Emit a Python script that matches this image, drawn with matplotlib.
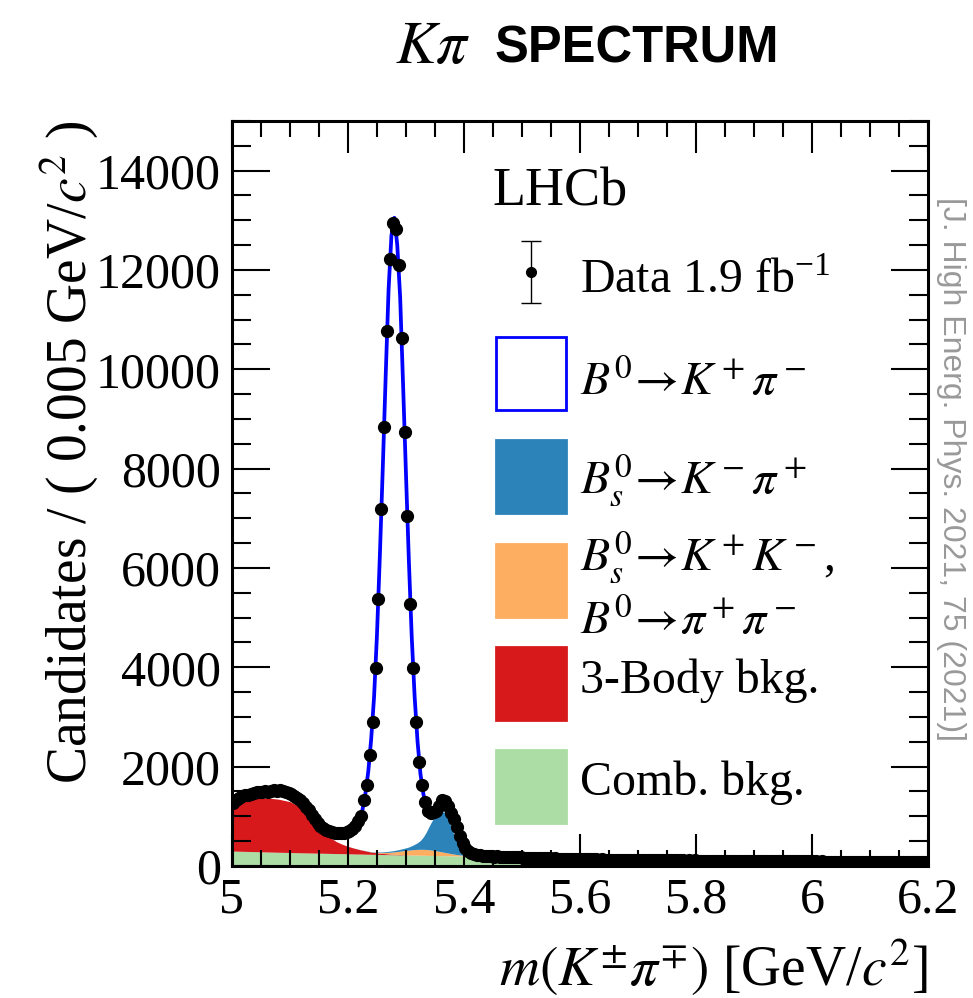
import numpy as np
import matplotlib
matplotlib.use('Agg')
import matplotlib.pyplot as plt
from matplotlib.patches import Rectangle
from matplotlib.ticker import MultipleLocator, FixedLocator

plt.rcParams['font.family'] = ['Liberation Serif', 'DejaVu Serif']
plt.rcParams['mathtext.fontset'] = 'stix'

# data histogram: 240 bins of 5 MeV from 5.0 to 6.2 GeV
bin_lo = 5.0
bin_w = 0.005
counts = [
    1268, 1330, 1370, 1400, 1420, 1430, 1450, 1470, 1490, 1495,
    1490, 1500, 1495, 1510, 1520, 1515, 1525, 1500, 1480, 1465,
    1440, 1410, 1370, 1328, 1260, 1190, 1127, 1020, 940, 870,
    800, 760, 725, 700, 680, 665, 660, 658, 665, 680,
    700, 750, 800, 900, 1000, 1328, 1630, 2234, 2900, 3986,
    5375, 7187, 8843, 10776, 12213, 12937, 12817, 12098, 10622, 8743,
    7052, 5274, 3986, 2900, 2100, 1630, 1294, 1110, 1070, 1080,
    1110, 1200, 1320, 1300, 1200, 1060, 940, 790, 600, 460,
    370, 300, 260, 235, 220, 212, 205, 200, 194, 196,
    189, 191, 185, 187, 181, 183, 177, 178, 172, 174,
    168, 170, 164, 166, 161, 162, 157, 159, 154, 155,
    150, 152, 147, 149, 144, 146, 142, 143, 139, 141,
    137, 138, 134, 136, 132, 134, 130, 132, 128, 130,
    127, 129, 125, 127, 124, 126, 122, 124, 121, 123,
    119, 121, 118, 120, 117, 119, 115, 118, 114, 117,
    113, 115, 112, 114, 111, 113, 110, 112, 109, 111,
    108, 110, 107, 109, 106, 108, 105, 107, 104, 106,
    103, 105, 102, 104, 101, 103, 100, 102, 99, 101,
    98, 100, 97, 99, 96, 98, 95, 97, 95, 96,
    94, 95, 93, 94, 92, 93, 91, 93, 91, 92,
    90, 91, 89, 90, 88, 89, 88, 89, 87, 88,
    86, 87, 85, 86, 85, 86, 84, 85, 83, 84,
    83, 84, 82, 83, 81, 82, 81, 82, 80, 81,
    80, 81, 79, 80, 79, 80, 78, 79, 78, 79,
]

# fit components sampled along the mass axis
fit_m = [5.00, 5.02, 5.04, 5.06, 5.08, 5.10, 5.12, 5.14, 5.16, 5.18, 5.19,
         5.200, 5.205, 5.210, 5.215, 5.220, 5.225, 5.230, 5.235, 5.240, 5.245,
         5.250, 5.255, 5.260, 5.265, 5.270, 5.275, 5.280, 5.285, 5.290, 5.295,
         5.300, 5.305, 5.310, 5.315, 5.320, 5.325, 5.330, 5.335, 5.340, 5.345,
         5.350, 5.355, 5.360, 5.365, 5.370, 5.375, 5.380, 5.385, 5.390, 5.395,
         5.400, 5.405, 5.410, 5.415, 5.420,
         5.44, 5.46, 5.50, 5.60, 5.70, 5.80, 5.90, 6.00, 6.10, 6.20]

comb = [300, 294, 288, 282, 276, 271, 265, 260, 255, 250, 248,
        245, 244, 242, 241, 240, 239, 237, 236, 235, 234,
        233, 232, 230, 229, 228, 227, 226, 225, 223, 222,
        221, 220, 219, 218, 217, 216, 215, 214, 212, 211,
        210, 209, 208, 207, 206, 205, 204, 203, 202, 201,
        200, 199, 198, 196, 194,
        186, 178, 163, 138, 121, 108, 98, 89, 83, 77]

threebody = [890, 996, 1072, 1088, 1069, 1024, 905, 640, 385, 240, 190,
             150, 133, 118, 104, 90, 78, 68, 56, 45, 38,
             32, 26, 22, 19, 16, 13, 11, 9, 8, 6,
             4, 3, 2, 1, 0, 0, 0, 0, 0, 0,
             0, 0, 0, 0, 0, 0, 0, 0, 0, 0,
             0, 0, 0, 0, 0,
             0, 0, 0, 0, 0, 0, 0, 0, 0, 0]

misid = [0, 0, 0, 0, 0, 0, 0, 0, 0, 0, 0,
         0, 0, 0, 0, 0, 0, 0, 1, 3, 5,
         8, 12, 17, 23, 30, 38, 47, 57, 67, 78,
         88, 97, 105, 112, 117, 119, 120, 118, 115, 108,
         100, 90, 80, 70, 60, 50, 40, 32, 25, 19,
         14, 10, 7, 5, 3,
         1, 0, 0, 0, 0, 0, 0, 0, 0, 0]

bs_kpi = [0, 0, 0, 0, 0, 0, 0, 0, 0, 0, 0,
          1, 1, 1, 2, 2, 2, 3, 4, 5, 6,
          8, 11, 14, 17, 21, 24, 28, 32, 38, 44,
          52, 62, 82, 105, 135, 180, 250, 350, 473, 590,
          690, 760, 800, 815, 770, 620, 470, 320, 200, 110,
          50, 22, 9, 4, 1,
          0, 0, 0, 0, 0, 0, 0, 0, 0, 0]

fit_total = [1270, 1400, 1470, 1495, 1510, 1460, 1300, 990, 745, 665, 665,
             690, 710, 770, 840, 950, 1130, 1450, 1900, 2550, 3400,
             4650, 6250, 8000, 9850, 11600, 12700, 13050, 12500, 11450, 9700,
             7900, 6150, 4600, 3400, 2500, 1850, 1450, 1200, 1080, 1070,
             1100, 1170, 1280, 1320, 1260, 1130, 1000, 860, 690, 530,
             410, 330, 280, 245, 225,
             200, 190, 170, 141, 123, 110, 100, 92, 86, 80]

xticks = [5.0, 5.2, 5.4, 5.6, 5.8, 6.0, 6.2]
xtick_labels = ['5', '5.2', '5.4', '5.6', '5.8', '6', '6.2']

c_comb, c_3body, c_misid, c_bs = '#abdda4', '#d7191c', '#fdae61', '#2b83ba'

counts = np.array(counts, dtype=float)
mass = bin_lo + bin_w * (np.arange(len(counts)) + 0.5)
err = np.sqrt(counts)

s0 = np.array(comb, dtype=float)
s1 = s0 + np.array(threebody)
s2 = s1 + np.array(misid)
s3 = s2 + np.array(bs_kpi)

fig = plt.figure(figsize=(9.73, 9.98), dpi=100)
ax = fig.add_axes([0.2384, 0.1323, 0.7153, 0.7465])

ax.fill_between(fit_m, 0, s0, color=c_comb, lw=0)
ax.fill_between(fit_m, s0, s1, color=c_3body, lw=0)
ax.fill_between(fit_m, s1, s2, color=c_misid, lw=0)
ax.fill_between(fit_m, s2, s3, color=c_bs, lw=0)
ax.plot(fit_m, fit_total, color='#0000ff', lw=2.7, zorder=3)
ax.errorbar(mass, counts, yerr=err, fmt='o', color='k', ms=8.5,
            elinewidth=1, capsize=1.5, zorder=4)

ax.set_xlim(5.0, 6.2)
ax.set_ylim(0, 15000)
ax.xaxis.set_major_locator(FixedLocator(xticks))
ax.set_xticklabels(xtick_labels)
ax.xaxis.set_minor_locator(MultipleLocator(0.05))
ax.yaxis.set_major_locator(MultipleLocator(2000))
ax.yaxis.set_minor_locator(MultipleLocator(500))
ax.tick_params(which='both', direction='in', top=True, right=True, width=1.5, labelsize=36)
ax.tick_params(axis='x', which='major', length=23, pad=8)
ax.tick_params(axis='x', which='minor', length=11.5)
ax.tick_params(axis='y', which='major', length=27, pad=8)
ax.tick_params(axis='y', which='minor', length=14)
for sp in ax.spines.values():
    sp.set_linewidth(2.2)
    sp.set_zorder(5)

ax.set_ylabel('Candidates / ( 0.005 GeV/$c^2$ )', fontsize=40, loc='top')
ax.yaxis.set_label_coords(-0.19, 1.0)
ax.set_xlabel(r'$m(K^{\pm}\pi^{\mp})$ [GeV/$c^2$]', fontsize=40, loc='right')
ax.xaxis.set_label_coords(1.0, -0.095)

# legend, drawn by hand
ax.text(0.375, 0.887, 'LHCb', transform=ax.transAxes, fontsize=39, va='baseline')
ax.errorbar([0.43], [0.797], yerr=[[0.042], [0.042]], transform=ax.transAxes,
            fmt='o', color='k', ms=7, elinewidth=1, capsize=7, capthick=1, clip_on=False)
ax.text(0.5, 0.7695, 'Data 1.9 fb$^{\\mathregular{-1}}$', transform=ax.transAxes,
        fontsize=34.5, va='baseline')

boxes = [
    (0.612, 'white', '#0000ff', [(r'$B^0\!\rightarrow\! K^+\pi^-$', 0.632)]),
    (0.474, c_bs, c_bs, [(r'$B_s^0\!\rightarrow\! K^-\pi^+$', 0.500)]),
    (0.334, c_misid, c_misid, [(r'$B_s^0\!\rightarrow\! K^+K^-$,', 0.397),
                               (r'$B^0\!\rightarrow\! \pi^+\pi^-$', 0.312)]),
    (0.196, c_3body, c_3body, [('3-Body bkg.', 0.2318)]),
    (0.058, c_comb, c_comb, [('Comb. bkg.', 0.0953)]),
]
for y0, fc, ec, labels in boxes:
    ax.add_patch(Rectangle((0.379, y0), 0.101, 0.098, transform=ax.transAxes,
                           facecolor=fc, edgecolor=ec, lw=2, zorder=6))
    for lab, yb in labels:
        ax.text(0.5, yb, lab, transform=ax.transAxes, fontsize=34.5, va='baseline')

# title and reference
fig.text(0.406, 0.9369, r'$K\pi$', fontsize=44, va='baseline', ha='left')
fig.text(0.5087, 0.9369, 'SPECTRUM', fontsize=36.5, va='baseline', ha='left',
         family='Liberation Sans', weight='bold')
fig.text(0.977, 0.53, '[J. High Energ. Phys. 2021, 75 (2021)]', rotation=270,
         color='#999999', family='Liberation Sans', fontsize=23, ha='center', va='center')

fig.savefig('out.png', dpi=100)
